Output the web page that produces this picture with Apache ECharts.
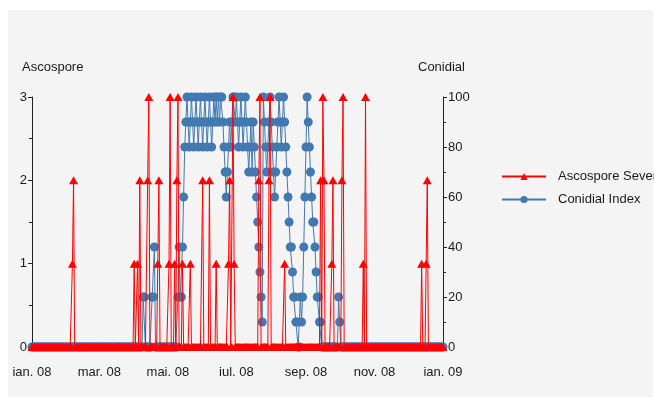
<!DOCTYPE html>
<html>
<head>
<meta charset="utf-8">
<script src="https://cdn.jsdelivr.net/npm/echarts@6/dist/echarts.min.js"></script>
<style>
  html, body { margin: 0; padding: 0; background: #ffffff; }
  #bg { position: absolute; left: 8px; top: 10px; width: 645px; height: 387px; background: #f4f4f4; }
  #chart { position: absolute; left: 0; top: 0; width: 654px; height: 408px; }
</style>
</head>
<body>
<div id="bg"></div>
<div id="chart"></div>
<script>
// ---- data ----
const startDate = '2008-01-01';
const dayCount = 367; // 1 Jan 2008 .. 1 Jan 2009

const tickDates = ['2008-01-01', '2008-03-01', '2008-05-01', '2008-07-01', '2008-09-01', '2008-11-01', '2009-01-01'];
const tickLabels = ['ian. 08', 'mar. 08', 'mai. 08', 'iul. 08', 'sep. 08', 'nov. 08', 'ian. 09'];

const seriesNames = ['Ascospore Severity', 'Conidial Index'];
const leftAxisName = 'Ascospore';
const rightAxisName = 'Conidial';

// daily Ascospore Severity (left axis, 0..3), rows of 20 days
const ascosporeSeverity = [
  0,0,0,0,0,0,0,0,0,0,0,0,0,0,0,0,0,0,0,0,
  0,0,0,0,0,0,0,0,0,0,0,0,0,0,0,0,1,2,0,0,
  0,0,0,0,0,0,0,0,0,0,0,0,0,0,0,0,0,0,0,0,
  0,0,0,0,0,0,0,0,0,0,0,0,0,0,0,0,0,0,0,0,
  0,0,0,0,0,0,0,0,0,0,0,1,0,0,1,0,2,0,0,0,
  0,0,0,2,3,0,0,0,0,0,0,0,1,2,0,0,0,0,0,0,
  0,0,1,3,0,0,0,1,0,2,3,0,0,0,1,0,0,0,0,0,
  0,1,0,0,0,0,0,0,0,0,0,0,2,0,0,0,0,0,2,0,
  0,0,0,0,1,0,0,0,0,0,0,0,0,0,0,1,2,0,0,3,
  1,0,0,0,0,0,0,0,0,0,0,0,0,0,0,0,0,0,0,0,
  0,0,2,3,0,0,0,0,0,0,0,2,3,0,0,0,0,0,0,0,
  0,0,0,0,0,1,0,0,0,0,0,0,0,0,0,0,0,0,0,0,
  0,0,0,0,0,0,0,0,0,0,0,0,0,0,0,0,0,2,0,3,
  2,0,0,0,0,0,0,1,2,0,0,0,0,0,0,0,2,3,0,0,
  0,0,0,0,0,0,0,0,0,0,0,0,0,0,0,1,0,3,0,0,
  0,0,0,0,0,0,0,0,0,0,0,0,0,0,0,0,0,0,0,0,
  0,0,0,0,0,0,0,0,0,0,0,0,0,0,0,0,0,0,0,0,
  0,0,0,0,0,0,0,1,0,0,0,1,2,0,0,0,0,0,0,0,
  0,0,0,0,0,0,0
];

// daily Conidial Index (right axis, 0..100), rows of 20 days
const conidialIndex = [
  0,0,0,0,0,0,0,0,0,0,0,0,0,0,0,0,0,0,0,0,
  0,0,0,0,0,0,0,0,0,0,0,0,0,0,0,0,0,0,0,0,
  0,0,0,0,0,0,0,0,0,0,0,0,0,0,0,0,0,0,0,0,
  0,0,0,0,0,0,0,0,0,0,0,0,0,0,0,0,0,0,0,0,
  0,0,0,0,0,0,0,0,0,0,0,0,0,0,0,0,0,0,0,20,
  20,0,0,0,0,0,0,20,20,40,0,0,0,0,0,0,0,0,0,0,
  0,0,0,0,0,0,0,0,0,0,20,40,20,20,40,60,80,90,100,90,
  80,90,100,90,80,90,100,90,80,90,100,90,80,90,100,90,80,90,100,90,
  80,90,100,90,100,90,100,90,100,100,90,80,70,60,70,80,90,80,90,100,
  100,90,100,90,80,90,100,90,80,90,100,90,80,70,80,90,70,90,80,70,
  60,50,40,30,20,10,100,90,80,70,80,90,100,90,80,70,60,70,80,90,
  100,90,80,90,100,90,80,70,60,50,40,40,30,20,20,10,10,0,0,20,
  10,20,40,60,80,100,90,80,70,60,50,50,40,30,20,20,10,10,0,0,
  0,0,0,0,0,0,0,0,0,0,0,0,0,20,10,0,0,0,0,0,
  0,0,0,0,0,0,0,0,0,0,0,0,0,0,0,0,0,0,0,0,
  0,0,0,0,0,0,0,0,0,0,0,0,0,0,0,0,0,0,0,0,
  0,0,0,0,0,0,0,0,0,0,0,0,0,0,0,0,0,0,0,0,
  0,0,0,0,0,0,0,0,0,0,0,0,0,0,0,0,0,0,0,0,
  0,0,0,0,0,0,0
];

// ---- build category axis (dates) ----
function fmt(d) {
  const m = String(d.getUTCMonth() + 1).padStart(2, '0');
  const dd = String(d.getUTCDate()).padStart(2, '0');
  return d.getUTCFullYear() + '-' + m + '-' + dd;
}
const categories = [];
const t0 = Date.parse(startDate + 'T00:00:00Z');
for (let i = 0; i < dayCount; i++) categories.push(fmt(new Date(t0 + i * 86400000)));

const FONT = "'Liberation Sans', Arial, sans-serif";
const FS = 13;
const TXT = '#1a1a1a';
const RED = '#ff0000';
const BLUE = '#4179b0';

const chart = echarts.init(document.getElementById('chart'), null, { renderer: 'canvas' });
chart.setOption({
  animation: false,
  backgroundColor: 'transparent',
  textStyle: { fontFamily: FONT },
  grid: { left: 32, right: 211, top: 97, bottom: 61, containLabel: false },
  legend: {
    orient: 'vertical',
    left: 496,
    top: 165,
    padding: 5,
    itemWidth: 44,
    itemHeight: 9,
    itemGap: 10,
    data: seriesNames,
    textStyle: { fontFamily: FONT, fontSize: FS, color: TXT, padding: [0, 0, 0, 7] }
  },
  graphic: [
    { type: 'text', left: 22, top: 61, style: { text: leftAxisName, font: FS + 'px ' + FONT, fill: TXT } },
    { type: 'text', left: 418, top: 61, style: { text: rightAxisName, font: FS + 'px ' + FONT, fill: TXT } }
  ],
  xAxis: {
    type: 'category',
    data: categories,
    boundaryGap: false,
    axisLine: { show: false },
    axisTick: { show: false },
    splitLine: { show: false },
    axisLabel: {
      interval: (idx, val) => tickDates.indexOf(val) >= 0,
      formatter: (val) => { const k = tickDates.indexOf(val); return k >= 0 ? tickLabels[k] : ''; },
      fontFamily: FONT, fontSize: FS, color: TXT, margin: 19,
      showMinLabel: true, showMaxLabel: true, hideOverlap: false
    }
  },
  yAxis: [
    {
      type: 'value', min: 0, max: 3, interval: 1, position: 'left',
      axisLine: { show: true, lineStyle: { color: '#222', width: 1 } },
      axisTick: { show: true, length: 4, lineStyle: { color: '#222' } },
      minorTick: { show: true, splitNumber: 2, length: 3, lineStyle: { color: '#222' } },
      splitLine: { show: false },
      axisLabel: { fontFamily: FONT, fontSize: FS, color: TXT, margin: 5 }
    },
    {
      type: 'value', min: 0, max: 100, interval: 20, position: 'right',
      axisLine: { show: true, lineStyle: { color: '#222', width: 1 } },
      axisTick: { show: true, length: 4, lineStyle: { color: '#222' } },
      minorTick: { show: true, splitNumber: 2, length: 3, lineStyle: { color: '#222' } },
      splitLine: { show: false },
      axisLabel: { fontFamily: FONT, fontSize: FS, color: TXT, margin: 5 }
    }
  ],
  series: [
    {
      name: seriesNames[1],
      type: 'line',
      yAxisIndex: 1,
      data: conidialIndex,
      showSymbol: true,
      showAllSymbol: true,
      symbol: 'circle',
      symbolSize: 9,
      itemStyle: { color: BLUE },
      lineStyle: { color: BLUE, width: 1 },
      z: 2,
      silent: true
    },
    {
      name: seriesNames[0],
      type: 'line',
      yAxisIndex: 0,
      data: ascosporeSeverity,
      showSymbol: true,
      showAllSymbol: true,
      symbol: 'triangle',
      symbolSize: [9, 8],
      itemStyle: { color: RED },
      lineStyle: { color: RED, width: 1 },
      z: 3,
      silent: true
    }
  ]
});
</script>
</body>
</html>
